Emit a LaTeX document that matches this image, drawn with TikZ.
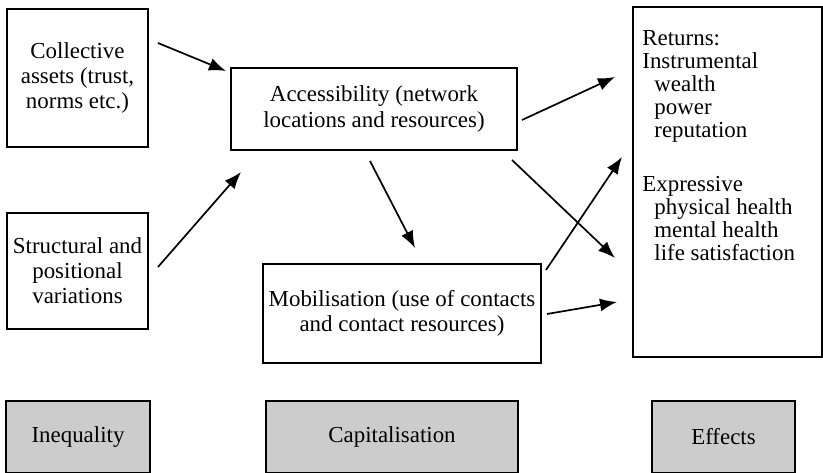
\documentclass[tikz,border=0pt]{standalone}
\usepackage{fontspec}
\setmainfont{Liberation Serif}
\usetikzlibrary{arrows.meta}
\usetikzlibrary{positioning}

\tikzset{
  box/.style={draw, line width=1bp, rectangle, inner sep=0pt, align=center},
  sect/.style={box, fill=gray!40, minimum height=36bp},
  arr/.style={line width=0.85bp, -{Latex[length=8.5bp,width=6.5bp]}},
  every node/.style={font=\fontsize{11.5}{12.6}\selectfont}
}

\begin{document}
\begin{tikzpicture}[x=0.5bp, y=-0.5bp]
      \useasboundingbox (0,0) rectangle (823,473);
      % boxes
      \node[box, minimum width=70.5bp, minimum height=69bp] (coll) at (77.5,78) {Collective\\assets (trust,\\norms etc.)};
      \node[box, minimum width=70.5bp, minimum height=58bp] (struc) at (77.5,271) {Structural and\\positional\\variations};
      \node[box, minimum width=143bp, minimum height=41bp] (acc) at (374,109) {Accessibility (network\\locations and resources)};
      \node[box, minimum width=139bp, minimum height=49.5bp] (mob) at (402,313.5) {Mobilisation (use of contacts\\and contact resources)};
      \node[box, minimum width=94.5bp, minimum height=175bp] (ret) at (727.5,182) {};
      \node[anchor=north west, inner sep=0pt, align=left, font=\fontsize{11.5}{11.5}\selectfont,
            below right=12bp and 5bp of ret.north west] (retlist)
            {Returns:\\Instrumental\\\hspace*{6bp}wealth\\\hspace*{6bp}power\\\hspace*{6bp}reputation\\[16bp]Expressive\\\hspace*{6bp}physical health\\\hspace*{6bp}mental health\\\hspace*{6bp}life satisfaction};
      % bottom row
      \node[sect, minimum width=72bp] (ineq) at (78,437) {Inequality};
      \node[sect, minimum width=126bp] (capit) at (392,437) {Capitalisation};
      \node[sect, minimum width=71.5bp] (eff) at (723.5,437) {Effects};
      % arrow ends
      \coordinate (c1) at (158,43);   \coordinate (a1) at (226,71);
      \coordinate (c2) at (158,267);  \coordinate (a2) at (241,172);
      \coordinate (a3) at (370,161);  \coordinate (m3) at (415,248);
      \coordinate (a4) at (522,120);  \coordinate (r4) at (615,77);
      \coordinate (a5) at (512,160);  \coordinate (r5) at (615,258);
      \coordinate (m6) at (546,270);  \coordinate (r6) at (622,157);
      \coordinate (m7) at (547,314);  \coordinate (r7) at (617,302);
      \draw[arr] (c1) -- (a1);
      \draw[arr] (c2) -- (a2);
      \draw[arr] (a3) -- (m3);
      \draw[arr] (a4) -- (r4);
      \draw[arr] (a5) -- (r5);
      \draw[arr] (m6) -- (r6);
      \draw[arr] (m7) -- (r7);
\end{tikzpicture}
\end{document}
